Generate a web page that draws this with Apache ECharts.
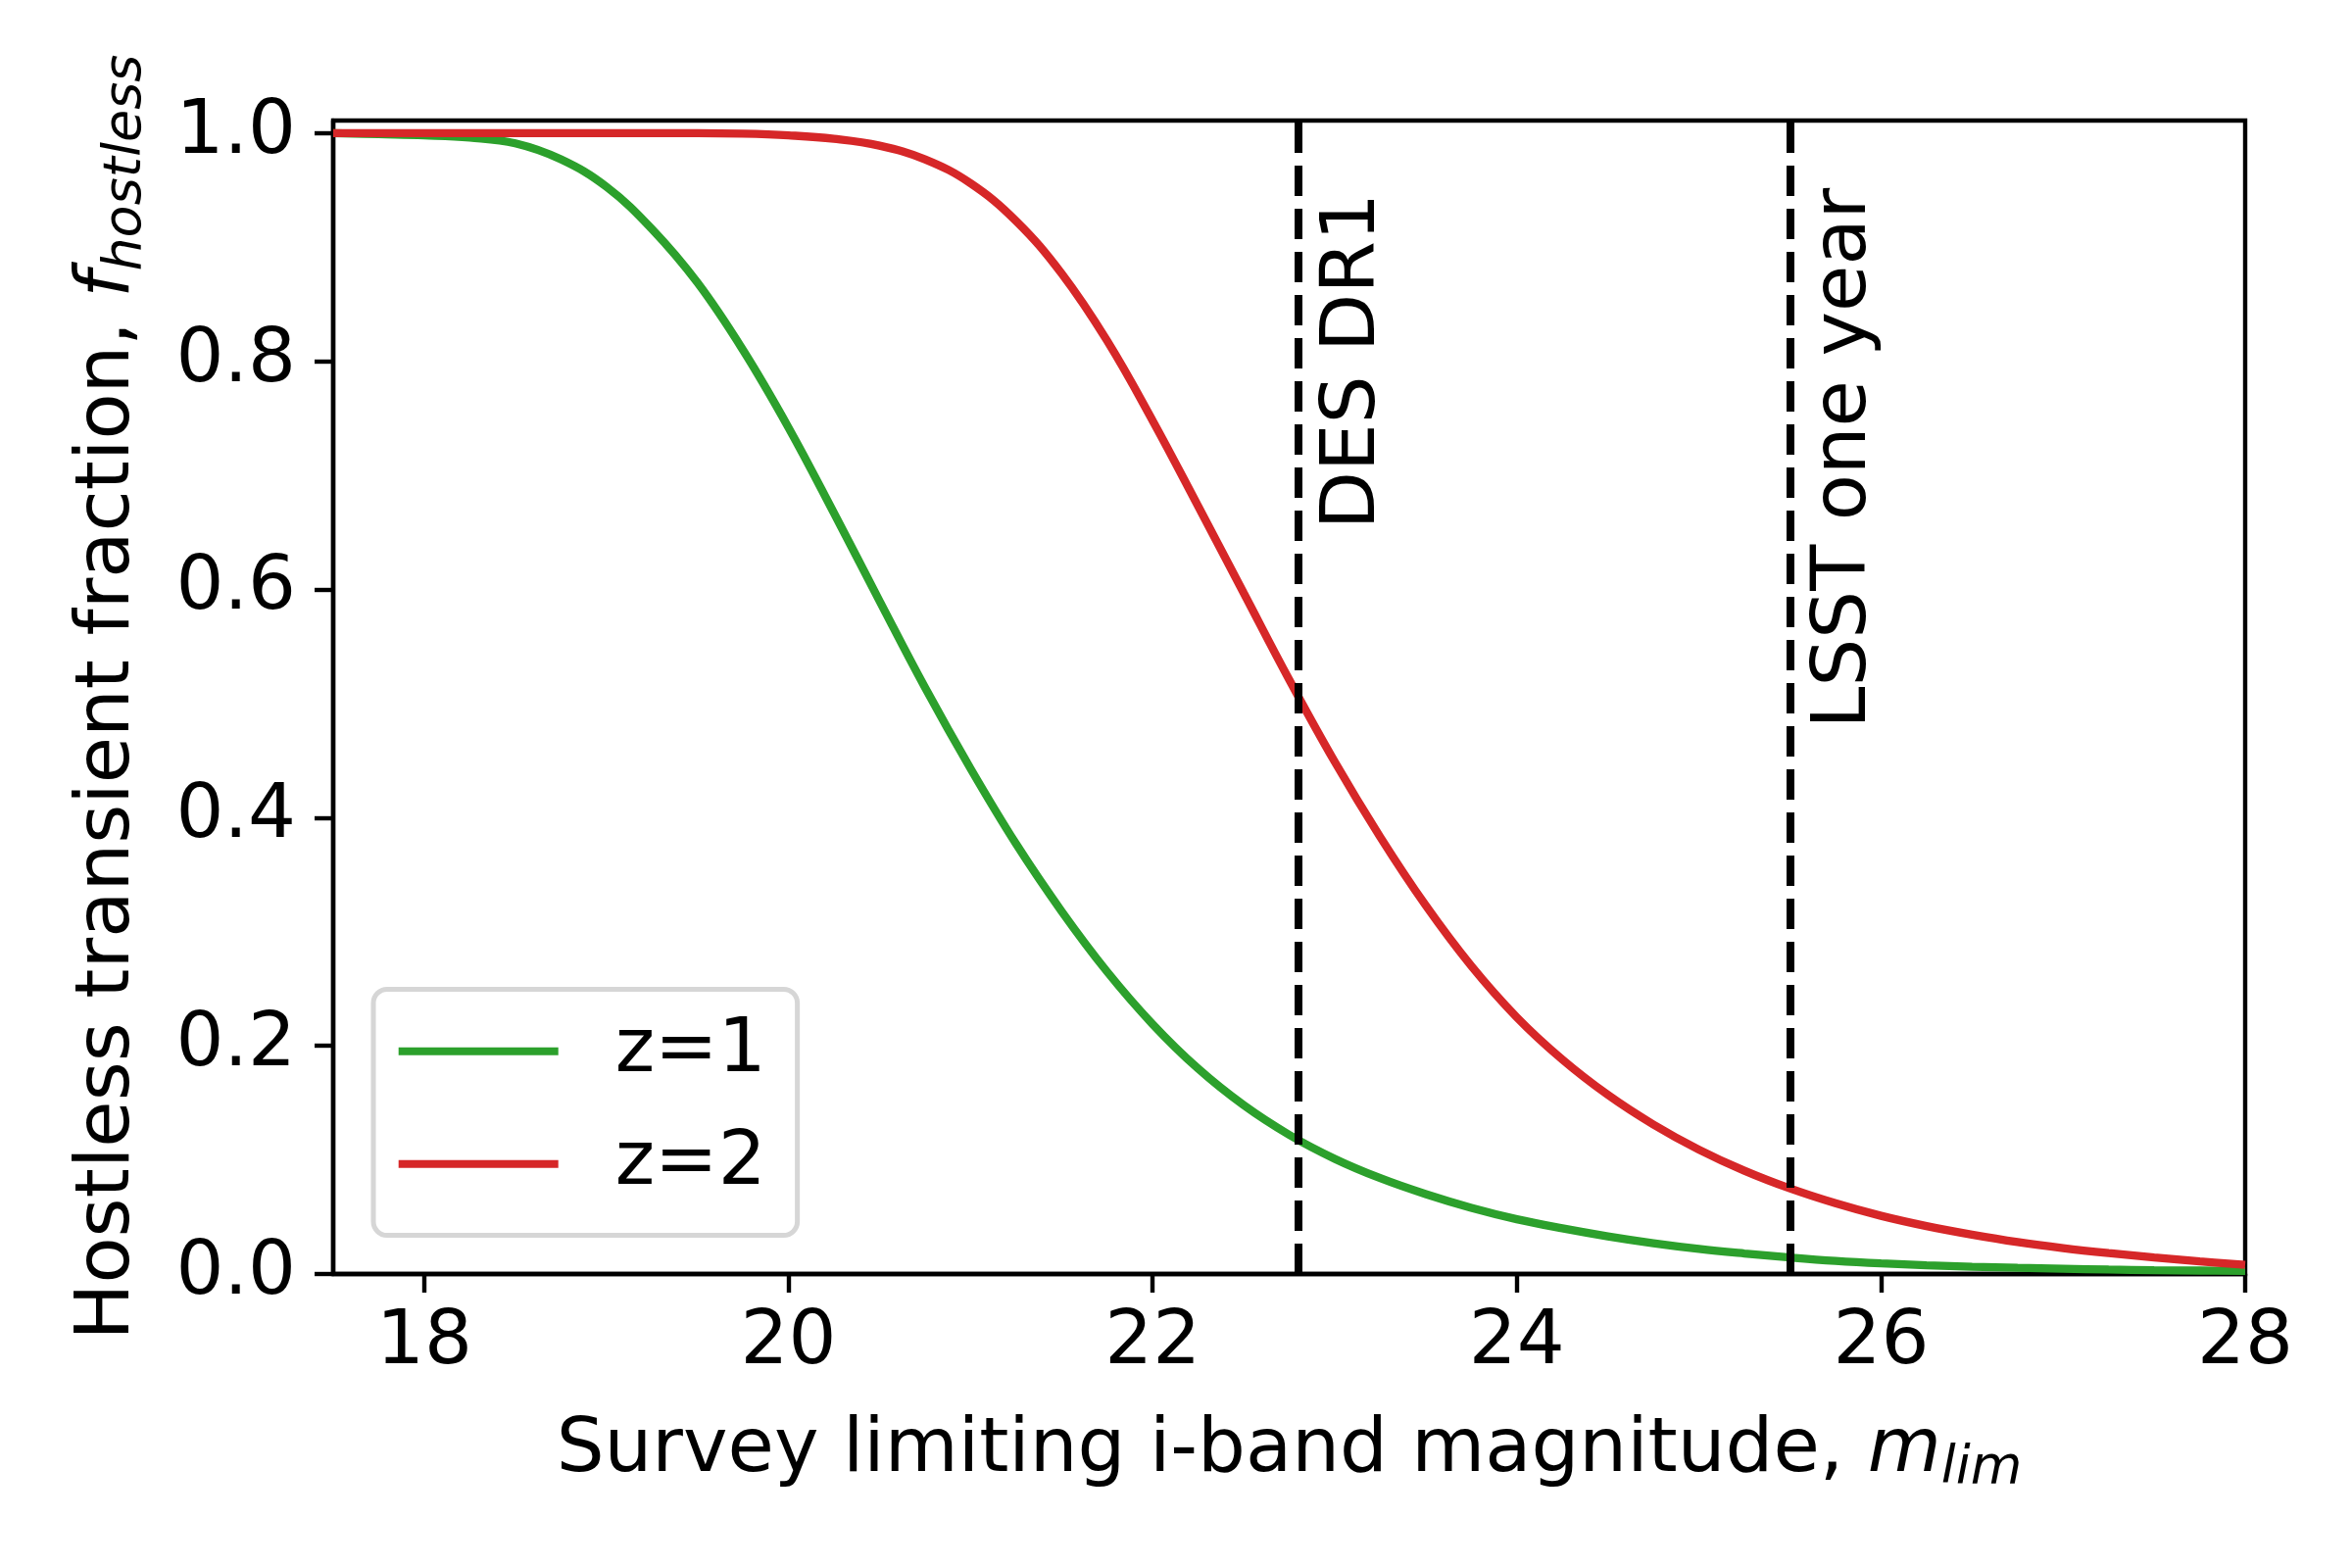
<!DOCTYPE html>
<html>
<head>
<meta charset="utf-8">
<title>Hostless transient fraction</title>
<script src="https://cdn.jsdelivr.net/npm/echarts@6/dist/echarts.min.js"></script>
<style>
  html, body { margin: 0; padding: 0; background: #fff; }
  #charts { width: 2400px; height: 1600px; }
</style>
</head>
<body>
<div id="charts"></div>
<script>
// survey limiting magnitude grid
const mags = [
  17.5, 17.75, 18, 18.25, 18.5, 18.75, 19, 19.25, 19.5, 19.75,
  20, 20.25, 20.5, 20.75, 21, 21.25, 21.5, 21.75, 22, 22.25,
  22.5, 22.75, 23, 23.25, 23.5, 23.75, 24, 24.25, 24.5, 24.75,
  25, 25.25, 25.5, 25.75, 26, 26.25, 26.5, 26.75, 27, 27.25,
  27.5, 27.75, 28
];
const fracZ1 = [
  1.000, 0.999, 0.998, 0.996, 0.991, 0.977, 0.953, 0.916, 0.869, 0.810,
  0.742, 0.667, 0.590, 0.514, 0.443, 0.377, 0.318, 0.265, 0.219, 0.180,
  0.148, 0.122, 0.101, 0.084, 0.070, 0.058, 0.048, 0.040, 0.033, 0.027,
  0.022, 0.018, 0.0145, 0.0115, 0.0093, 0.0077, 0.0064, 0.0054, 0.0046, 0.0039,
  0.0034, 0.0030, 0.0026
];
const fracZ2 = [
  1.000, 1.000, 1.000, 1.000, 1.000, 1.000, 1.000, 1.000, 1.000, 0.9995,
  0.998, 0.995, 0.989, 0.977, 0.956, 0.923, 0.877, 0.818, 0.748, 0.673,
  0.597, 0.521, 0.449, 0.383, 0.323, 0.270, 0.225, 0.188, 0.157, 0.131,
  0.109, 0.0905, 0.075, 0.062, 0.051, 0.042, 0.0345, 0.028, 0.0227, 0.0183,
  0.0145, 0.011, 0.008
];
const seriesNames = ['z=1', 'z=2'];

// survey depths and where their labels sit
const surveyNames = ['DES DR1', 'LSST one year'];
const surveyDepths = [22.8, 25.5];
const surveyLabelY = [0.80, 0.715];

const xTicks = [18, 20, 22, 24, 26, 28];
const yTicks = [0, 0.2, 0.4, 0.6, 0.8, 1.0];

const FONT = 'DejaVu Sans';
const FS = 77;

const pair = (xs, ys) => xs.map((x, i) => [x, ys[i]]);

var myChart = echarts.init(document.getElementById('charts'), null, { renderer: 'canvas' });

const titleRich = {
  n: { fontFamily: FONT, fontSize: FS, lineHeight: 90, color: '#000' },
  i: { fontFamily: FONT, fontSize: FS, lineHeight: 90, fontStyle: 'italic', color: '#000' },
  sub: { fontFamily: FONT, fontSize: 54, lineHeight: 54, fontStyle: 'italic', color: '#000', verticalAlign: 'bottom' }
};

const option = {
  backgroundColor: '#fff',
  animation: false,
  grid: {
    left: 340, right: 109, top: 123, bottom: 300,
    show: true, borderColor: '#000', borderWidth: 4.4, backgroundColor: 'transparent'
  },
  legend: {
    data: seriesNames,
    orient: 'vertical',
    left: 381, top: 1009.5,
    icon: 'rect',
    itemWidth: 163, itemHeight: 8,
    itemGap: 38,
    padding: [24.7, 32, 34.3, 25.7],
    borderColor: '#d6d6d6', borderWidth: 5, borderRadius: 14,
    backgroundColor: '#fff',
    selectedMode: false,
    textStyle: { fontFamily: FONT, fontSize: FS, lineHeight: 77, color: '#000', padding: [0, 0, 0, 53] }
  },
  xAxis: {
    type: 'value', min: 17.5, max: 28,
    name: '{n|Survey limiting i-band magnitude, }{i|m}{sub|lim}',
    nameLocation: 'middle', nameGap: 136,
    nameTextStyle: { rich: titleRich },
    axisLine: { show: true, onZero: false, lineStyle: { color: '#000', width: 4.4 } },
    axisTick: { show: true, inside: false, length: 19, lineStyle: { color: '#000', width: 4.4 }, customValues: xTicks },
    axisLabel: { fontFamily: FONT, fontSize: FS, color: '#000', margin: 32, customValues: xTicks, formatter: v => String(v) },
    splitLine: { show: false }
  },
  yAxis: {
    type: 'value', min: 0, max: 1.011,
    name: '{n|Hostless transient fraction, }{i|f}{sub|hostless}',
    nameLocation: 'middle', nameGap: 184, nameRotate: 90,
    nameTextStyle: { rich: titleRich },
    axisLine: { show: true, onZero: false, lineStyle: { color: '#000', width: 4.4 } },
    axisTick: { show: true, inside: false, length: 19, lineStyle: { color: '#000', width: 4.4 }, customValues: yTicks },
    axisLabel: { fontFamily: FONT, fontSize: FS, color: '#000', margin: 38, customValues: yTicks, formatter: v => v.toFixed(1) },
    splitLine: { show: false }
  },
  series: [
    {
      name: seriesNames[0], type: 'line', data: pair(mags, fracZ1),
      showSymbol: false, smooth: 0.4,
      color: '#2ca02c', lineStyle: { width: 8.3, color: '#2ca02c' }, z: 3
    },
    {
      name: seriesNames[1], type: 'line', data: pair(mags, fracZ2),
      showSymbol: false, smooth: 0.4,
      color: '#d62728', lineStyle: { width: 8.3, color: '#d62728' }, z: 3,
      markLine: {
        silent: true, symbol: ['none', 'none'], animation: false,
        label: { show: false },
        lineStyle: { color: '#000', width: 8, type: [31, 13] },
        emphasis: { disabled: true },
        data: surveyDepths.map(v => ({ xAxis: v }))
      }
    },
    {
      name: 'surveys', type: 'scatter', symbolSize: 1, silent: true, z: 4,
      itemStyle: { color: 'rgba(0,0,0,0)', opacity: 1 },
      data: surveyDepths.map((v, i) => ({ value: [v, surveyLabelY[i]], name: surveyNames[i] })),
      label: {
        show: true, position: 'inside', rotate: 90, offset: [0, 57],
        align: 'center', verticalAlign: 'middle', opacity: 1,
        fontFamily: FONT, fontSize: FS, color: '#000',
        formatter: p => p.name
      }
    }
  ]
};

myChart.setOption(option);
</script>
</body>
</html>
